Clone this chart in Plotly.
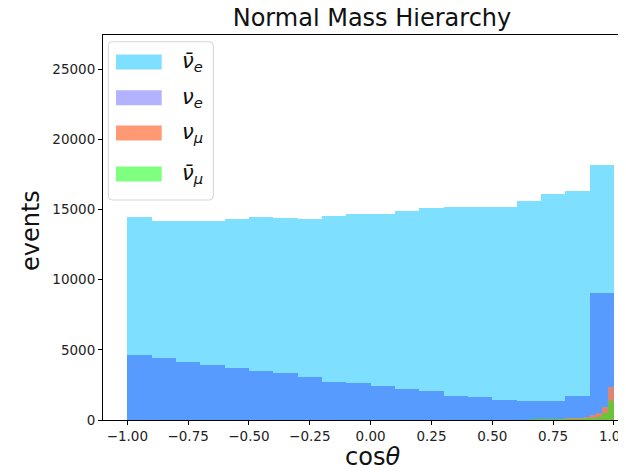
import numpy as np
import plotly.graph_objects as go

# ---------------- data ----------------
coarse_edges = np.round(np.linspace(-1.0, 1.0, 21), 3)          # 0.1 wide bins
fine_edges = np.round(np.arange(0.45, 1.0001, 0.025), 4)         # 0.025 wide bins

nue_bar = [14480, 14200, 14200, 14200, 14340, 14480, 14390, 14290, 14530, 14700,
           14700, 14890, 15080, 15170, 15170, 15170, 15580, 16120, 16290, 18180]
nue = [4640, 4430, 4140, 3930, 3690, 3520, 3330, 3070, 2740, 2640,
       2430, 2210, 2090, 1740, 1620, 1430, 1330, 1330, 1710, 9020]
numu = [5, 5, 10, 10, 15, 15, 20, 20, 20,
        60, 70, 80, 90, 100, 110, 130, 160, 200,
        330, 520, 950, 2330]
numu_bar = [20, 20, 25, 25, 30, 30, 35, 35, 40,
            40, 45, 50, 55, 60, 70, 80, 90, 110,
            140, 240, 520, 1330]

labels = ["<i>ν̄</i><sub><i>e</i></sub>", "<i>ν</i><sub><i>e</i></sub>",
          "<i>ν</i><sub><i>μ</i></sub>", "<i>ν̄</i><sub><i>μ</i></sub>"]
colors = ["rgba(0,191,255,0.5)", "rgba(0,0,255,0.3)",
          "rgba(255,127,80,0.8)", "rgba(0,255,0,0.5)"]

xtick_vals = [-1.0, -0.75, -0.5, -0.25, 0.0, 0.25, 0.5, 0.75, 1.0]
xtick_text = ["−1.00", "−0.75", "−0.50", "−0.25", "0.00", "0.25", "0.50", "0.75", "1.00"]
ytick_vals = [0, 5000, 10000, 15000, 20000, 25000]
ytick_text = ["0", "5000", "10000", "15000", "20000", "25000"]

# ---------------- figure ----------------
# the page body adds an 8px margin, so the figure is laid out 8px smaller
OFF = 8
PAGE_W, PAGE_H = 626, 472
W, H = PAGE_W - OFF, PAGE_H - OFF
# plot area in page pixels (as measured on the reference)
pL, pR, pT, pB = 103, 626, 35, 420
L, R, T, B = pL - OFF, pR - OFF, pT - OFF, pB - OFF


def px_x(x):  # page px -> paper
    return (x - pL) / (pR - pL)


def px_y(y):
    return (pB - y) / (pB - pT)


fig = go.Figure()
c_centers = (coarse_edges[:-1] + coarse_edges[1:]) / 2
f_centers = (fine_edges[:-1] + fine_edges[1:]) / 2
series = [(c_centers, nue_bar, 0.1), (c_centers, nue, 0.1),
          (f_centers, numu, 0.025), (f_centers, numu_bar, 0.025)]
for (xc, vals, w), lab, col in zip(series, labels, colors):
    fig.add_trace(go.Bar(x=xc, y=vals, width=w, name=lab,
                         marker=dict(color=col, line=dict(width=0)),
                         showlegend=False, hoverinfo="x+y"))

fig.update_layout(
    width=W, height=H,
    margin=dict(l=L, r=W - R, t=T, b=H - B, autoexpand=False),
    barmode="overlay", bargap=0,
    plot_bgcolor="white", paper_bgcolor="white",
    font=dict(family="DejaVu Sans", color="#222"),
    title=dict(text="Normal Mass Hierarchy", x=(372 - OFF) / W, xref="container",
               xanchor="center", y=1 - (18 - OFF) / H, yref="container", yanchor="middle",
               font=dict(size=24, color="#111")),
)
fig.update_xaxes(range=[-1.1, -1.1 + (pR - pL) / 243.3], showgrid=False, zeroline=False,
                 automargin=False, ticklabeloverflow="allow",
                 showline=True, linecolor="black", linewidth=1, mirror=True,
                 ticks="outside", ticklen=4, tickcolor="black",
                 tickvals=xtick_vals, ticktext=xtick_text,
                 tickfont=dict(size=13.5, color="#222"))
fig.update_yaxes(range=[0, (pB - pT) / 70.2 * 5000], showgrid=False, zeroline=False,
                 automargin=False,
                 showline=True, linecolor="black", linewidth=1,
                 ticks="outside", ticklen=4, tickcolor="black",
                 tickvals=ytick_vals, ticktext=ytick_text,
                 tickfont=dict(size=13.5, color="#222"))

# axis titles
fig.add_annotation(text="events", xref="paper", yref="paper",
                   x=px_x(31), y=px_y(231), textangle=-90, showarrow=False,
                   xanchor="center", yanchor="middle",
                   font=dict(size=24, color="#111"))
fig.add_annotation(text="cos<i>θ</i>", xref="paper", yref="paper",
                   x=px_x(372), y=px_y(457), showarrow=False,
                   xanchor="center", yanchor="middle",
                   font=dict(size=24, color="#111"))

# legend (drawn by hand to match the wide patches)
bx0, bx1, by0, by1, rr = 108.3, 213.3, 41.7, 200.0, 4
X0, X1 = px_x(bx0), px_x(bx1)
Y0, Y1 = px_y(by1), px_y(by0)
rx = rr / (pR - pL)
ry = rr / (pB - pT)
path = (f"M {X0 + rx},{Y1} L {X1 - rx},{Y1} Q {X1},{Y1} {X1},{Y1 - ry} "
        f"L {X1},{Y0 + ry} Q {X1},{Y0} {X1 - rx},{Y0} L {X0 + rx},{Y0} "
        f"Q {X0},{Y0} {X0},{Y0 + ry} L {X0},{Y1 - ry} Q {X0},{Y1} {X0 + rx},{Y1} Z")
fig.add_shape(type="path", path=path, xref="paper", yref="paper",
              fillcolor="rgba(255,255,255,0.8)", line=dict(color="#d5d5d5", width=1))
row_y = [62, 97.7, 133, 174]
for yc, lab, col in zip(row_y, labels, colors):
    fig.add_shape(type="rect", xref="paper", yref="paper",
                  x0=px_x(116), x1=px_x(161.7), y0=px_y(yc + 7.5), y1=px_y(yc - 7.5),
                  fillcolor=col, line=dict(width=0))
    fig.add_annotation(text=lab, xref="paper", yref="paper",
                       x=px_x(180), y=px_y(yc), showarrow=False,
                       xanchor="left", yanchor="middle",
                       font=dict(size=21, color="#111"))

fig.write_html("out.html")
